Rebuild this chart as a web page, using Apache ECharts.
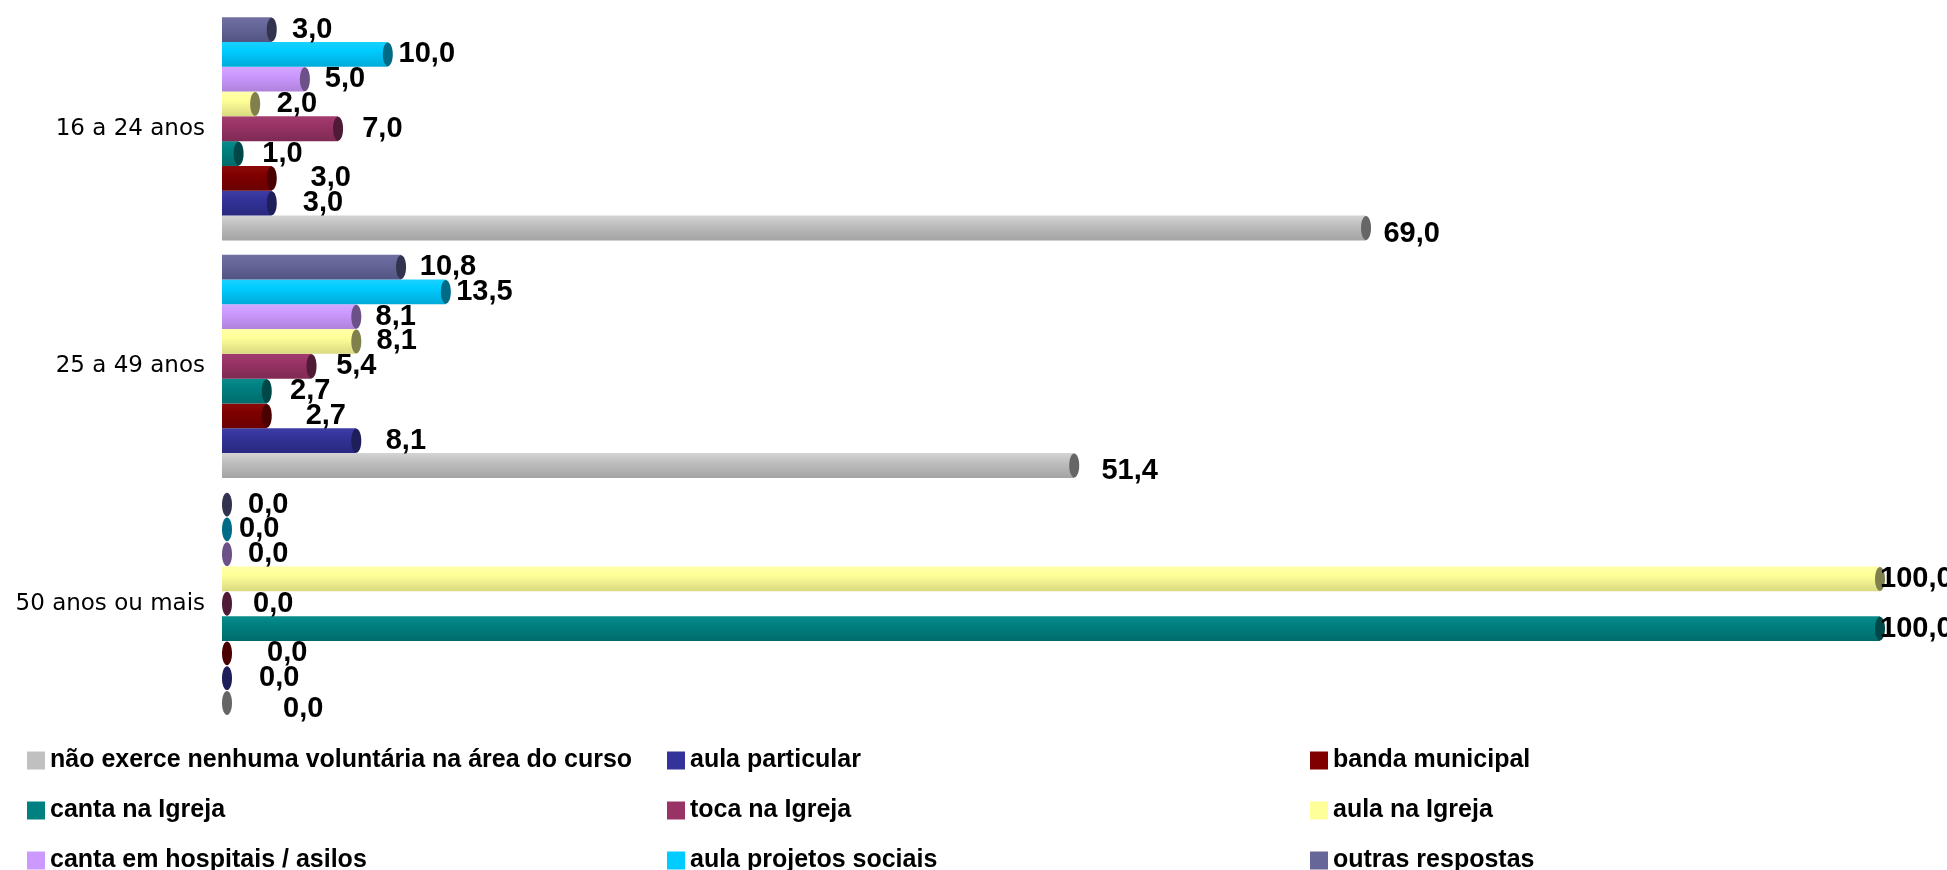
<!DOCTYPE html>
<html>
<head>
<meta charset="utf-8">
<script src="https://cdn.jsdelivr.net/npm/echarts@6/dist/echarts.min.js"></script>
<style>
html,body{margin:0;padding:0;background:#fff;}
#chart{width:1947px;height:870px;}
</style>
</head>
<body>
<div id="chart"></div>
<script>
// ---- data ----
const categories = ['16 a 24 anos', '25 a 49 anos', '50 anos ou mais'];
const seriesNames = [
  'não exerce nenhuma voluntária na área do curso',
  'aula particular',
  'banda municipal',
  'canta na Igreja',
  'toca na Igreja',
  'aula na Igreja',
  'canta em hospitais / asilos',
  'aula projetos sociais',
  'outras respostas'
];
const naoExerce      = [69.0, 51.4, 0.0];
const aulaParticular = [3.0, 8.1, 0.0];
const bandaMunicipal = [3.0, 2.7, 0.0];
const cantaIgreja    = [1.0, 2.7, 100.0];
const tocaIgreja     = [7.0, 5.4, 0.0];
const aulaIgreja     = [2.0, 8.1, 100.0];
const cantaHospitais = [5.0, 8.1, 0.0];
const aulaProjetos   = [10.0, 13.5, 0.0];
const outras         = [3.0, 10.8, 0.0];
const seriesValues = [naoExerce, aulaParticular, bandaMunicipal, cantaIgreja, tocaIgreja,
                      aulaIgreja, cantaHospitais, aulaProjetos, outras];

// ---- styles ----
const legendColors = ['#C0C0C0', '#333399', '#800000', '#008080', '#993366', '#FFFF99', '#CC99FF', '#00CCFF', '#666699'];
const bodyTop      = ['#D4D4D4', '#3D3DA6', '#8C0A0A', '#0A8C8C', '#A33D70', '#FFFFA8', '#D4A8FF', '#19D1FF', '#7070A3'];
const bodyBottom   = ['#A3A3A3', '#29297F', '#6A0000', '#006B6B', '#7E2A54', '#D9D980', '#AE82DB', '#00AAD9', '#545482'];
const capColors    = ['#666666', '#1E1E5A', '#4A0000', '#004848', '#4E1A35', '#80804D', '#6C5088', '#006B86', '#33334F'];
const labelBase    = [56, 32, 40, 24, 26, 22, 21, 12, 21];
const labelDy      = [6, 0, 0, 0, 0, 0, 0, 0, 0];
// legend grid: column lefts, row tops
const legendCols = [27, 667, 1310];
const legendRows = [748, 798, 848];

const chart = echarts.init(document.getElementById('chart'));

function fmt(v) { return v.toFixed(1).replace('.', ','); }

function makeRender(s) {
  return function (params, api) {
    const v = api.value(0);
    const cat = api.value(1);
    const p1 = api.coord([v, cat]);
    const p0 = api.coord([0, cat]);
    const band = api.size([0, 1])[1];
    const total = band * 0.94;
    const bw = total / 9;
    const top = p1[1] + total / 2 - (s + 1) * bw;
    const cy = top + bw / 2;
    const rx = 5;
    const capX = Math.max(p1[0], p0[0] + rx);
    const grad = new echarts.graphic.LinearGradient(0, 0, 0, 1, [
      { offset: 0, color: bodyTop[s] },
      { offset: 0.35, color: legendColors[s] },
      { offset: 1, color: bodyBottom[s] }
    ]);
    const dist = labelBase[s] * (1 - v / 100);
    return {
      type: 'group',
      children: [
        { type: 'rect', shape: { x: p0[0], y: top, width: Math.max(0, p1[0] - p0[0]), height: bw }, style: { fill: grad } },
        { type: 'ellipse', shape: { cx: capX, cy: cy, rx: rx, ry: bw / 2 - 0.5 }, style: { fill: capColors[s] } },
        { type: 'text', z2: 100, style: {
            text: fmt(v), x: capX + dist, y: cy + labelDy[s],
            fontFamily: '"Liberation Sans", Arial, sans-serif', fontWeight: 'bold', fontSize: 29,
            fill: '#000', verticalAlign: 'middle', align: 'left' } }
      ]
    };
  };
}

const series = seriesNames.map((name, s) => ({
  type: 'custom',
  name: name,
  itemStyle: { color: legendColors[s] },
  renderItem: makeRender(s),
  encode: { x: 0, y: 1 },
  data: seriesValues[s].map((v, i) => [v, categories[i]]),
  clip: false,
  z: 2 + s
}));

const legends = seriesNames.map((name, s) => ({
  data: [name],
  left: legendCols[s % 3],
  top: legendRows[Math.floor(s / 3)],
  icon: 'rect',
  itemWidth: 18,
  itemHeight: 18,
  padding: 0,
  selectedMode: false,
  textStyle: { fontFamily: '"Liberation Sans", Arial, sans-serif', fontWeight: 'bold', fontSize: 25, color: '#000' }
}));

chart.setOption({
  backgroundColor: '#fff',
  animation: false,
  grid: { left: 222, right: 67, top: 10, bottom: 147.5, containLabel: false },
  xAxis: { type: 'value', min: 0, max: 100, show: false },
  yAxis: {
    type: 'category', data: categories, inverse: true,
    axisLine: { show: false }, axisTick: { show: false }, splitLine: { show: false },
    axisLabel: { margin: 17, fontFamily: '"DejaVu Sans", Verdana, sans-serif', fontSize: 23, color: '#000' }
  },
  legend: legends,
  series: series
});
</script>
</body>
</html>
